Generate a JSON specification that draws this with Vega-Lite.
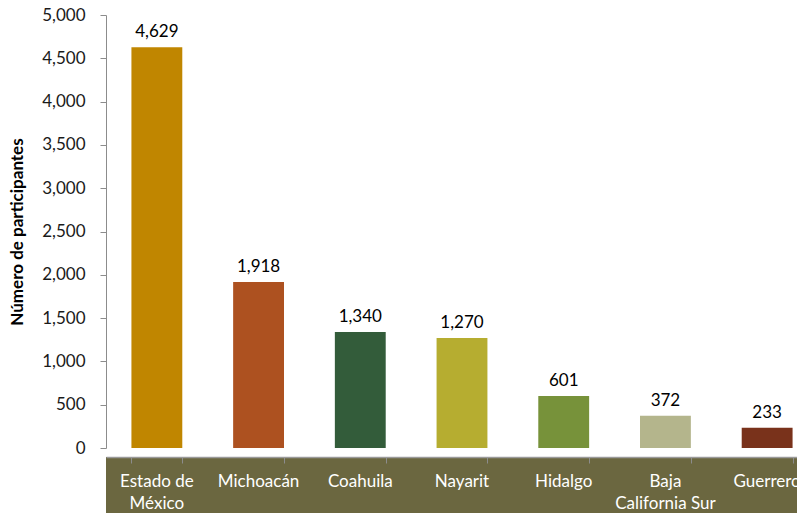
{
  "$schema": "https://vega.github.io/schema/vega-lite/v6.json",
  "padding": {"left": 8, "top": 6, "right": 0, "bottom": 0},
  "background": "white",
  "config": {
    "view": {"stroke": null},
    "font": "Lato",
    "axis": {"labelFont": "Lato", "titleFont": "Lato"}
  },
  "data": {
    "values": [
      {"estado": "Estado de\nMéxico", "participantes": 4629},
      {"estado": "Michoacán", "participantes": 1918},
      {"estado": "Coahuila", "participantes": 1340},
      {"estado": "Nayarit", "participantes": 1270},
      {"estado": "Hidalgo", "participantes": 601},
      {"estado": "Baja\nCalifornia Sur", "participantes": 372},
      {"estado": "Guerrero", "participantes": 233}
    ]
  },
  "spacing": 0,
  "vconcat": [
    {
      "width": 712,
      "height": 433,
      "encoding": {
        "x": {
          "field": "estado", "type": "nominal", "sort": null,
          "scale": {"paddingInner": 0.5, "paddingOuter": 0.25},
          "axis": null
        },
        "y": {
          "field": "participantes", "type": "quantitative",
          "scale": {"domain": [0, 5000]},
          "axis": {
            "title": "Número de participantes",
            "titleFontSize": 17, "titleFontWeight": "bold", "titleColor": "#000000",
            "titlePadding": 15,
            "values": [0, 500, 1000, 1500, 2000, 2500, 3000, 3500, 4000, 4500, 5000],
            "format": ",.0f",
            "labelFontSize": 17, "labelColor": "#1a1a1a", "labelPadding": 15,
            "tickSize": 6, "tickColor": "#8c8c8c", "domainColor": "#8c8c8c",
            "grid": false
          }
        }
      },
      "layer": [
        {
          "mark": {"type": "bar"},
          "encoding": {
            "color": {
              "field": "estado", "type": "nominal", "sort": null, "legend": null,
              "scale": {"range": ["#C08600", "#AD5120", "#335C3A", "#B6AD30", "#77923A", "#B4B58C", "#79321B"]}
            }
          }
        },
        {
          "mark": {"type": "text", "baseline": "bottom", "dy": -6, "fontSize": 17, "color": "#000000"},
          "encoding": {
            "text": {"field": "participantes", "type": "quantitative", "format": ",.0f"}
          }
        }
      ]
    },
    {
      "width": 712,
      "height": 64,
      "view": {"fill": "#6B6740", "stroke": null},
      "mark": {"type": "text", "baseline": "top", "dy": -15, "fontSize": 17, "color": "#ffffff", "lineBreak": "\n", "lineHeight": 22},
      "encoding": {
        "x": {
          "field": "estado", "type": "nominal", "sort": null,
          "scale": {"paddingInner": 0.5, "paddingOuter": 0.25},
          "axis": {
            "orient": "top", "title": null, "labels": false,
            "tickBand": "extent", "tickSize": -6, "tickColor": "#8c8c8c",
            "domainColor": "#9a9a9a", "domainWidth": 1.5
          }
        },
        "text": {"field": "estado", "type": "nominal"}
      }
    }
  ]
}
